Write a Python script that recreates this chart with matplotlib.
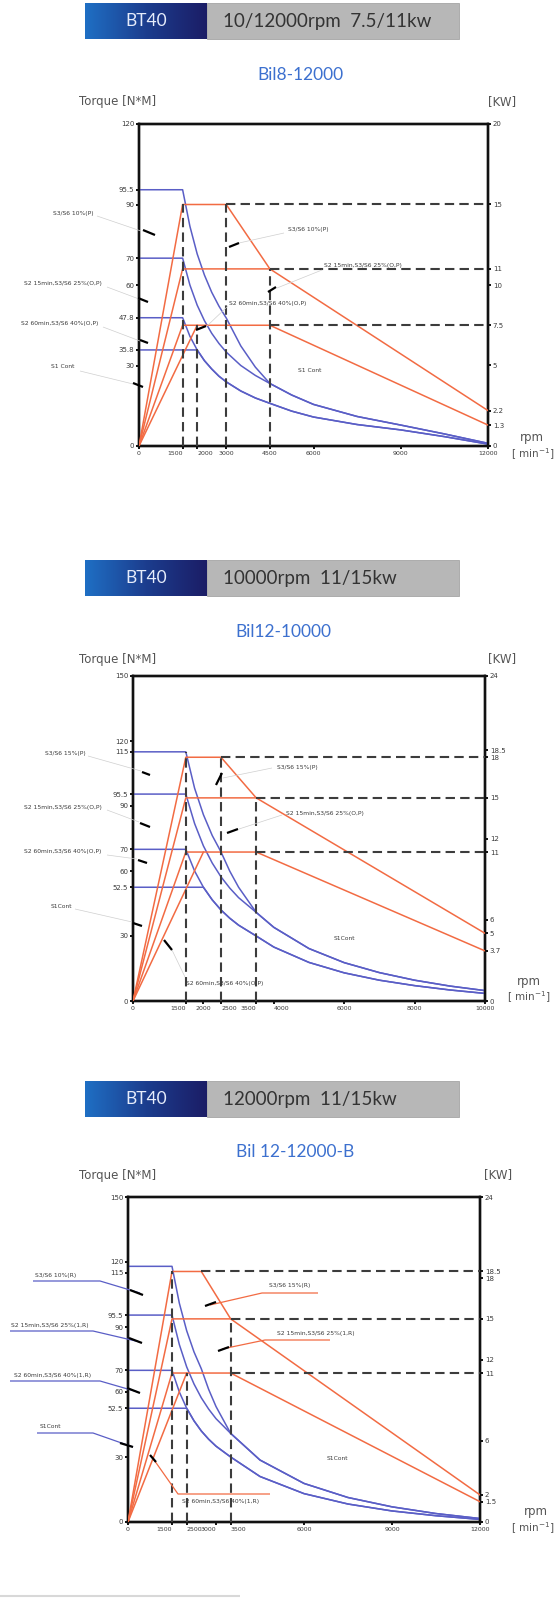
import numpy as np
import matplotlib.pyplot as plt
from matplotlib.lines import Line2D
from matplotlib.patches import Rectangle
from matplotlib.colors import LinearSegmentedColormap

plt.rcParams['font.family'] = ['DejaVu Sans']

W, H = 556, 1600
BLUE = '#5a5ec6'
ORANGE = '#f26b43'
DASH = '#3c3c3c'
TXT = '#3a3a3a'

# ---------------- chart 1 : Bil8-12000 ----------------
c1_spec = '10/12000rpm  7.5/11kw'
c1_title = 'Bil8-12000'
c1_xticks = [0, 1500, 2000, 3000, 4500, 6000, 9000, 12000]
c1_xlabels = ['0', '1500', '2000', '3000', '4500', '6000', '9000', '12000']
c1_xalign = ['center', 'right', 'left', 'center', 'center', 'center', 'center', 'center']
c1_yticks = [0, 30, 35.8, 47.8, 60, 70, 90, 95.5, 120]
c1_ylabels = ['0', '30', '35.8', '47.8', '60', '70', '90', '95.5', '120']
c1_kwticks = [0, 1.3, 2.2, 5, 7.5, 10, 11, 15, 20]
c1_kwlabels = ['0', '1.3', '2.2', '5', '7.5', '10', '11', '15', '20']

c1_tq_rpm = [0, 1500, 1750, 2000, 2250, 2500, 2750, 3000, 3500, 4000, 4500, 5250, 6000,
             7500, 9000, 10500, 12000]
c1_tq_s3 = [95.5, 95.5, 81.9, 71.6, 63.7, 57.3, 52.1, 47.7, 37.3, 29.4, 23.3, 19.0, 15.5,
            11.0, 7.8, 4.5, 1.0]
c1_tq_s2_15 = [70, 70, 60.0, 52.5, 46.7, 42.0, 38.2, 35.0, 30.0, 26.3, 23.3, 19.0, 15.5,
               11.0, 7.8, 4.5, 1.0]
c1_tq_s2_60 = [47.8, 47.8, 40.9, 35.8, 31.8, 28.7, 26.0, 23.9, 20.5, 17.9, 15.9, 13.0, 10.8,
               8.0, 6.0, 3.5, 0.7]
c1_tq_s1 = [35.8, 35.8, 35.8, 35.8, 31.8, 28.7, 26.0, 23.9, 20.5, 17.9, 15.9, 13.0, 10.8,
            8.0, 6.0, 3.5, 0.7]

c1_pw_s3_rpm = [0, 1500, 3000, 4500]
c1_pw_s3 = [0, 15, 15, 11]
c1_pw_s2_15_rpm = [0, 1500, 4500, 12000]
c1_pw_s2_15 = [0, 11, 11, 2.2]
c1_pw_s2_60_rpm = [0, 1500, 4500, 12000]
c1_pw_s2_60 = [0, 7.5, 7.5, 1.3]
c1_pw_s1_rpm = [0, 2000]
c1_pw_s1 = [0, 7.5]

c1_hdash_kw = [15, 11, 7.5]
c1_hdash_from = [3000, 4500, 4500]
c1_vdash_rpm = [1500, 2000, 3000, 4500]
c1_vdash_kw = [15, 7.5, 15, 11]

# ---------------- chart 2 : Bil12-10000 ----------------
c2_spec = '10000rpm  11/15kw'
c2_title = 'Bil12-10000'
c2_xticks = [0, 1500, 2000, 2500, 3500, 4000, 6000, 8000, 10000]
c2_xlabels = ['0', '1500', '2000', '2500', '3500', '4000', '6000', '8000', '10000']
c2_xalign = ['center', 'right', 'center', 'left', 'right', 'left', 'center', 'center', 'center']
c2_yticks = [0, 30, 52.5, 60, 70, 90, 95.5, 115, 120, 150]
c2_ylabels = ['0', '30', '52.5', '60', '70', '90', '95.5', '115', '120', '150']
c2_kwticks = [0, 3.7, 5, 6, 11, 12, 15, 18, 18.5, 24]
c2_kwlabels = ['0', '3.7', '5', '6', '11', '12', '15', '18', '18.5', '24']

c2_tq_rpm = [0, 1500, 1750, 2000, 2250, 2500, 2750, 3000, 3500, 4000, 5000, 6000, 7000,
             8000, 9000, 10000]
c2_tq_s3 = [115, 115, 98.2, 86.0, 76.4, 68.8, 59.9, 52.5, 40.9, 34.0, 24.2, 17.7, 13.1,
            9.6, 6.9, 4.8]
c2_tq_s2_15 = [95.5, 95.5, 81.9, 71.6, 63.7, 57.3, 52.1, 47.7, 40.9, 34.0, 24.2, 17.7, 13.1,
               9.6, 6.9, 4.8]
c2_tq_s2_60 = [70, 70, 60.0, 52.5, 46.7, 42.0, 38.2, 35.0, 30.0, 24.9, 17.8, 13.0, 9.6,
               7.1, 5.1, 3.5]
c2_tq_s1 = [52.5, 52.5, 52.5, 52.5, 46.7, 42.0, 38.2, 35.0, 30.0, 24.9, 17.8, 13.0, 9.6,
            7.1, 5.1, 3.5]

c2_pw_s3_rpm = [0, 1500, 2500, 3500]
c2_pw_s3 = [0, 18, 18, 15]
c2_pw_s2_15_rpm = [0, 1500, 3500, 10000]
c2_pw_s2_15 = [0, 15, 15, 5]
c2_pw_s2_60_rpm = [0, 1500, 3500, 10000]
c2_pw_s2_60 = [0, 11, 11, 3.7]
c2_pw_s1_rpm = [0, 2000]
c2_pw_s1 = [0, 11]

c2_hdash_kw = [18, 15, 11]
c2_hdash_from = [2500, 3500, 3500]
c2_vdash_rpm = [1500, 2500, 3500]
c2_vdash_kw = [18.4, 18, 15]

# ---------------- chart 3 : Bil 12-12000-B ----------------
c3_spec = '12000rpm  11/15kw'
c3_title = 'Bil 12-12000-B'
c3_xticks = [0, 1500, 2000, 3000, 3500, 6000, 9000, 12000]
c3_xlabels = ['0', '1500', '2500', '3000', '3500', '6000', '9000', '12000']
c3_xalign = ['center', 'right', 'left', 'right', 'left', 'center', 'center', 'center']
c3_yticks = [0, 30, 52.5, 60, 70, 90, 95.5, 115, 120, 150]
c3_ylabels = ['0', '30', '52.5', '60', '70', '90', '95.5', '115', '120', '150']
c3_kwticks = [0, 1.5, 2, 6, 11, 12, 15, 18, 18.5, 24]
c3_kwlabels = ['0', '1.5', '2', '6', '11', '12', '15', '18', '18.5', '24']

c3_tq_rpm = [0, 1500, 1750, 2000, 2250, 2500, 2750, 3000, 3500, 4500, 6000, 7500, 9000,
             10500, 12000]
c3_tq_s3 = [118, 118, 101.0, 88.3, 78.5, 70.7, 61.2, 53.3, 40.9, 28.6, 17.8, 11.3, 7.0,
            3.9, 1.6]
c3_tq_s2_15 = [95.5, 95.5, 81.9, 71.6, 63.7, 57.3, 52.1, 47.7, 40.9, 28.6, 17.8, 11.3, 7.0,
               3.9, 1.6]
c3_tq_s2_60 = [70, 70, 60.0, 52.5, 46.7, 42.0, 38.2, 35.0, 30.0, 21.0, 13.1, 8.3, 5.1,
               2.9, 1.2]
c3_tq_s1 = [52.5, 52.5, 52.5, 52.5, 46.7, 42.0, 38.2, 35.0, 30.0, 21.0, 13.1, 8.3, 5.1,
            2.9, 1.2]

c3_pw_s3_rpm = [0, 1500, 2500, 3500]
c3_pw_s3 = [0, 18.5, 18.5, 15]
c3_pw_s2_15_rpm = [0, 1500, 3500, 12000]
c3_pw_s2_15 = [0, 15, 15, 2]
c3_pw_s2_60_rpm = [0, 1500, 3500, 12000]
c3_pw_s2_60 = [0, 11, 11, 1.5]
c3_pw_s1_rpm = [0, 2000]
c3_pw_s1 = [0, 11]

c3_hdash_kw = [18.5, 15, 11]
c3_hdash_from = [2500, 3500, 3500]
c3_vdash_rpm = [1500, 2000, 3500]
c3_vdash_kw = [18.5, 11, 15]


fig = plt.figure(figsize=(W / 100, H / 100), dpi=100)
fig.patch.set_facecolor('white')
bar_cmap = LinearSegmentedColormap.from_list('bar', ['#1f6fc4', '#1c3d8e', '#1b1d66'])


def ftext(x, y, s, **kw):
    fig.text(x / W, 1 - y / H, s, **kw)


def seg(pts, color, lw):
    xs = [p[0] / W for p in pts]
    ys = [1 - p[1] / H for p in pts]
    fig.add_artist(Line2D(xs, ys, color=color, lw=lw, transform=fig.transFigure,
                          solid_capstyle='butt'))


def header(top, spec, title, title_x, title_y):
    hax = fig.add_axes([85 / W, 1 - (top + 36) / H, 122 / W, 36 / H])
    hax.imshow(np.linspace(0, 1, 200).reshape(1, -1), aspect='auto', cmap=bar_cmap,
               extent=[0, 1, 0, 1])
    hax.axis('off')
    hax.text(0.5, 0.5, 'BT40', color='#e6ecfb', ha='center', va='center', fontsize=12.5,
             family='Lato')
    fig.add_artist(Rectangle((207 / W, 1 - (top + 36) / H), 252 / W, 36 / H,
                             transform=fig.transFigure, facecolor='#b7b7b7',
                             edgecolor='#a5a5a5', lw=0.6))
    ftext(223, top + 18, spec, ha='left', va='center', fontsize=13.5, color='#333333',
          family='Lato')
    ftext(title_x, title_y, title, ha='center', va='center', fontsize=12.5,
          color='#3c70cf', family='Lato')


def chart(box, xmax, ymax, pmax, xt, xtl, xal, yt, ytl, kt, ktl, tq_rpm, tq_lines,
          pw_lines, hd_kw, hd_from, vd_rpm, vd_kw):
    left, top, right, bottom = box
    ax = fig.add_axes([left / W, 1 - bottom / H, (right - left) / W, (bottom - top) / H])
    ax2 = ax.twinx()
    for tq in tq_lines:
        ax.plot(tq_rpm, tq, color=BLUE, lw=1.1, zorder=3)
    for rp, pw in pw_lines:
        ax2.plot(rp, pw, color=ORANGE, lw=1.1, zorder=3)
    for kw, x0 in zip(hd_kw, hd_from):
        ax2.plot([x0, xmax], [kw, kw], color=DASH, lw=1.5, dashes=(4.5, 2.5), zorder=4)
    for x0, kw in zip(vd_rpm, vd_kw):
        ax2.plot([x0, x0], [0, kw], color=DASH, lw=1.5, dashes=(4.5, 2.5), zorder=4)
    ax.set_xlim(0, xmax)
    ax.set_ylim(0, ymax)
    ax2.set_ylim(0, pmax)
    ax.set_xticks(xt)
    ax.set_xticklabels(xtl)
    ax.set_yticks(yt)
    ax.set_yticklabels(ytl)
    ax2.set_yticks(kt)
    ax2.set_yticklabels(ktl)
    for a in (ax, ax2):
        a.tick_params(length=2.5, width=1.3, pad=1, labelsize=5, labelcolor=TXT,
                      color='black')
        for s in a.spines.values():
            s.set_linewidth(1.7)
            s.set_color('#111111')
    ax.tick_params(axis='x', labelsize=4.5)
    for lab, ha in zip(ax.get_xticklabels(), xal):
        lab.set_ha(ha)
    ax.patch.set_alpha(0)
    return ax


def labels(items, fs=4.3):
    for s, x, y in items:
        ftext(x, y, s, ha='center', va='center', fontsize=fs, color=TXT)


def strokes(items, lw=1.6):
    for p in items:
        seg(p, 'black', lw)


def leaders(items, color='#cfcfcf', lw=0.5):
    for p in items:
        seg(p, color, lw)


# ---------- chart 1 ----------
header(3, c1_spec, c1_title, 300, 75)
ftext(118, 101, 'Torque [N*M]', ha='center', va='center', fontsize=8.5, color='#555555')
ftext(502, 102, '[KW]', ha='center', va='center', fontsize=8.5, color='#555555')
chart((139, 124, 488, 446), 12000, 120, 20, c1_xticks, c1_xlabels, c1_xalign,
      c1_yticks, c1_ylabels, c1_kwticks, c1_kwlabels, c1_tq_rpm,
      [c1_tq_s3, c1_tq_s2_15, c1_tq_s2_60, c1_tq_s1],
      [(c1_pw_s3_rpm, c1_pw_s3), (c1_pw_s2_15_rpm, c1_pw_s2_15),
       (c1_pw_s2_60_rpm, c1_pw_s2_60), (c1_pw_s1_rpm, c1_pw_s1)],
      c1_hdash_kw, c1_hdash_from, c1_vdash_rpm, c1_vdash_kw)
ftext(532, 438, 'rpm', ha='center', va='center', fontsize=8.5, color='#555555')
ftext(511, 454, '[ min$^{-1}$]', ha='left', va='center', fontsize=7.5, color='#555555')
labels([('S3/S6 10%(P)', 73, 213), ('S2 15min,S3/S6 25%(O,P)', 63, 283),
        ('S2 60min,S3/S6 40%(O,P)', 60, 323), ('S1 Cont', 63, 367),
        ('S3/S6 10%(P)', 308, 230), ('S2 15min,S3/S6 25%(O,P)', 363, 266),
        ('S2 60min,S3/S6 40%(O,P)', 268, 303), ('S1 Cont', 310, 370)])
leaders([((97, 216), (141, 231)), ((107, 287), (139, 299)), ((103, 327), (140, 341)),
         ((80, 371), (133, 384)), ((239, 243), (284, 233)), ((277, 288), (322, 270)),
         ((207, 326), (228, 306))])
strokes([((143, 230), (155, 235)), ((138, 298), (148, 302)), ((140, 340), (148, 343)),
         ((133, 383), (143, 387)), ((229, 247), (239, 243)), ((196, 330), (206, 326)),
         ((268, 292), (276, 287))])

# ---------- chart 2 ----------
header(560, c2_spec, c2_title, 283, 632)
ftext(118, 660, 'Torque [N*M]', ha='center', va='center', fontsize=8.5, color='#555555')
ftext(502, 659, '[KW]', ha='center', va='center', fontsize=8.5, color='#555555')
chart((133, 676, 485, 1001), 10000, 150, 24, c2_xticks, c2_xlabels, c2_xalign,
      c2_yticks, c2_ylabels, c2_kwticks, c2_kwlabels, c2_tq_rpm,
      [c2_tq_s3, c2_tq_s2_15, c2_tq_s2_60, c2_tq_s1],
      [(c2_pw_s3_rpm, c2_pw_s3), (c2_pw_s2_15_rpm, c2_pw_s2_15),
       (c2_pw_s2_60_rpm, c2_pw_s2_60), (c2_pw_s1_rpm, c2_pw_s1)],
      c2_hdash_kw, c2_hdash_from, c2_vdash_rpm, c2_vdash_kw)
ftext(529, 982, 'rpm', ha='center', va='center', fontsize=8.5, color='#555555')
ftext(507, 997, '[ min$^{-1}$]', ha='left', va='center', fontsize=7.5, color='#555555')
labels([('S3/S6 15%(P)', 65, 753), ('S2 15min,S3/S6 25%(O,P)', 63, 807),
        ('S2 60min,S3/S6 40%(O,P)', 63, 852), ('S1Cont', 61, 906),
        ('S3/S6 15%(P)', 297, 768), ('S2 15min,S3/S6 25%(O,P)', 325, 813),
        ('S1Cont', 344, 938), ('S2 60min,S3/S6 40%(O,P)', 225, 983)])
leaders([((88, 756), (141, 771)), ((107, 810), (139, 822)), ((107, 855), (137, 859)),
         ((75, 909), (132, 922)), ((223, 778), (272, 768)), ((239, 829), (282, 815)),
         ((172, 950), (185, 977))])
strokes([((142, 772), (150, 775)), ((140, 823), (150, 827)), ((138, 860), (147, 863)),
         ((133, 923), (142, 926)), ((216, 785), (222, 773)), ((227, 833), (238, 829)),
         ((164, 940), (172, 950))])

# ---------- chart 3 ----------
header(1081, c3_spec, c3_title, 295, 1152)
ftext(118, 1175, 'Torque [N*M]', ha='center', va='center', fontsize=8.5, color='#555555')
ftext(498, 1175, '[KW]', ha='center', va='center', fontsize=8.5, color='#555555')
chart((128, 1197, 480, 1522), 12000, 150, 24, c3_xticks, c3_xlabels, c3_xalign,
      c3_yticks, c3_ylabels, c3_kwticks, c3_kwlabels, c3_tq_rpm,
      [c3_tq_s3, c3_tq_s2_15, c3_tq_s2_60, c3_tq_s1],
      [(c3_pw_s3_rpm, c3_pw_s3), (c3_pw_s2_15_rpm, c3_pw_s2_15),
       (c3_pw_s2_60_rpm, c3_pw_s2_60), (c3_pw_s1_rpm, c3_pw_s1)],
      c3_hdash_kw, c3_hdash_from, c3_vdash_rpm, c3_vdash_kw)
ftext(536, 1512, 'rpm', ha='center', va='center', fontsize=8.5, color='#555555')
ftext(511, 1528, '[ min$^{-1}$]', ha='left', va='center', fontsize=7.5, color='#555555')
labels([('S3/S6 10%(R)', 56, 1276), ('S2 15min,S3/S6 25%(1,R)', 50, 1326),
        ('S2 60min,S3/S6 40%(1,R)', 53, 1375), ('S1Cont', 50, 1427),
        ('S3/S6 15%(R)', 290, 1286), ('S2 15min,S3/S6 25%(1,R)', 316, 1333),
        ('S2 60min,S3/S6 40%(1,R)', 221, 1501), ('S1Cont', 337, 1458)])
leaders([((33, 1281), (100, 1281), (140, 1293)), ((10, 1331), (93, 1331), (140, 1342)),
         ((10, 1381), (100, 1381), (138, 1392)), ((37, 1433), (93, 1433), (133, 1447))],
        color=BLUE, lw=0.9)
leaders([((210, 1305), (262, 1293), (318, 1293)), ((222, 1349), (265, 1340), (330, 1340)),
         ((152, 1457), (178, 1494), (270, 1494))], color=ORANGE, lw=0.9)
strokes([((130, 1290), (143, 1295)), ((129, 1338), (142, 1343)), ((127, 1388), (140, 1393)),
         ((120, 1443), (133, 1447)), ((205, 1306), (216, 1302)), ((218, 1351), (229, 1347)),
         ((150, 1455), (156, 1462))])

# faint rule at the bottom
seg(((0, 1596), (240, 1596)), '#d8d8d8', 1.5)

fig.savefig('out.png', dpi=100, facecolor='white')
